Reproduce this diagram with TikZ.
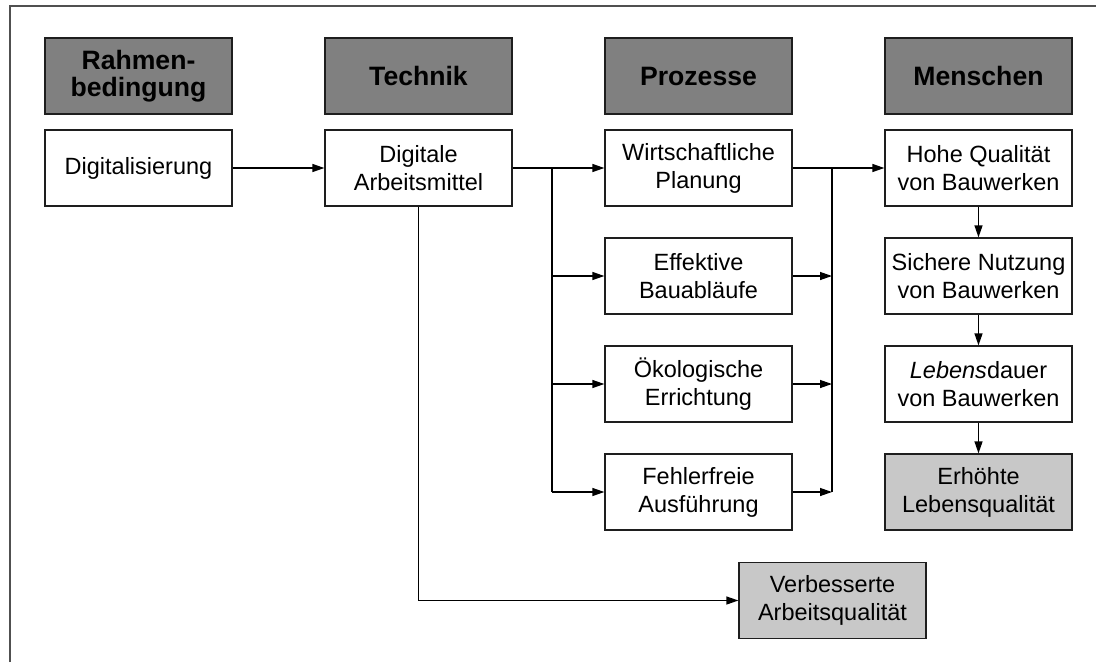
\documentclass[tikz,border=0pt]{standalone}
\usepackage{fontspec}
\setmainfont{Liberation Sans}
\usetikzlibrary{arrows.meta}
\definecolor{headgray}{RGB}{128,128,128}
\definecolor{resgray}{RGB}{200,200,200}
\definecolor{edgecol}{RGB}{30,30,30}
\definecolor{framecol}{RGB}{80,80,80}
\begin{document}
\begin{tikzpicture}[x=1pt,y=-1pt,
  box/.style={draw=edgecol, line width=1.3pt, fill=white,
    minimum width=187pt, minimum height=76pt, inner sep=0pt,
    align=center, font=\fontsize{23.5}{28}\selectfont},
  head/.style={box, fill=headgray, font=\fontsize{26.6}{27}\selectfont\bfseries},
  result/.style={box, fill=resgray},
  line/.style={draw=black, line width=1.3pt},
  link/.style={line, -{Triangle[length=12pt,width=8pt]}}]
  \useasboundingbox (0,0) rectangle (1096,662);

  % open frame (top and left edges)
  \draw[framecol, line width=1.5pt] (10,662) -- (10,6) -- (1096,6);

  % column headers
  \node[head] (hRahmen)   at (138.5,76) {Rahmen-\\bedingung};
  \node[head] (hTechnik)  at (418.5,76) {Technik};
  \node[head] (hProzesse) at (698.5,76) {Prozesse};
  \node[head] (hMenschen) at (978.5,76) {Menschen};

  % first column and technology
  \node[box] (dig)  at (138.5,168) {Digitalisierung};
  \node[box] (dam)  at (418.5,168) {Digitale\\Arbeitsmittel};

  % processes
  \node[box] (wirt) at (698.5,168) {Wirtschaftliche\\Planung};
  \node[box] (eff)  at (698.5,276) {Effektive\\Bauabläufe};
  \node[box] (oek)  at (698.5,384) {Ökologische\\Errichtung};
  \node[box] (fehl) at (698.5,492) {Fehlerfreie\\Ausführung};

  % people
  \node[box] (hohe) at (978.5,168) {Hohe Qualität\\von Bauwerken};
  \node[box] (sich) at (978.5,276) {Sichere Nutzung\\von Bauwerken};
  \node[box] (leb)  at (978.5,384) {\textit{Lebens}dauer\\von Bauwerken};
  \node[result] (erh) at (978.5,492) {Erhöhte\\Lebensqualität};

  % outcome of the working tools
  \node[result] (verb) at (832.5,600.5) {Verbesserte\\Arbeitsqualität};

  % branch and merge points
  \coordinate (bl) at (552,168);
  \coordinate (br) at (832,168);

  % main chain
  \draw[link] (dig.east) -- (dam.east -| dam.west);
  \draw[link] (dam.east) -- (wirt.west);
  \draw[link] (wirt.east) -- (hohe.west);

  % distribution to the processes
  \draw[line] (bl) -- (bl |- fehl.west);
  \draw[link] (bl |- eff.west) -- (eff.west);
  \draw[link] (bl |- oek.west) -- (oek.west);
  \draw[link] (bl |- fehl.west) -- (fehl.west);

  % merging of the processes
  \draw[line] (br) -- (br |- fehl.east);
  \draw[link] (eff.east) -- (eff.east -| br);
  \draw[link] (oek.east) -- (oek.east -| br);
  \draw[link] (fehl.east) -- (fehl.east -| br);

  % chain on the people side
  \draw[link] (hohe.south) -- (sich.north);
  \draw[link] (sich.south) -- (leb.north);
  \draw[link] (leb.south) -- (erh.north);

  % working tools to working quality
  \draw[link] (dam.south) |- (verb.west);
\end{tikzpicture}
\end{document}
